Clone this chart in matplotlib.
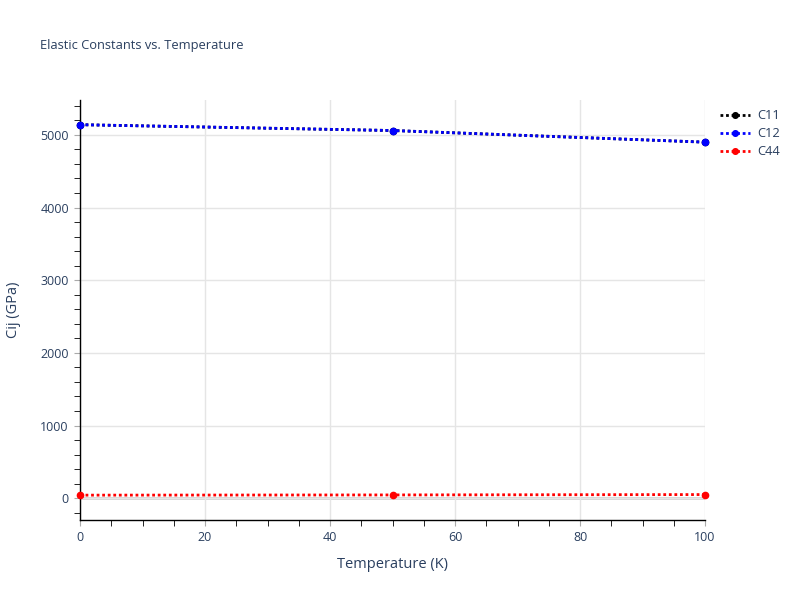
import matplotlib
matplotlib.use("Agg")
import matplotlib.pyplot as plt
from matplotlib.ticker import MultipleLocator

temperature = [0, 50, 100]
c11 = [5140, 5060, 4900]
c12 = [5140, 5060, 4900]
c44 = [42, 45, 50]

series_names = ["C11", "C12", "C44"]
series_colors = ["black", "blue", "red"]

plt.rcParams['font.family'] = ['Open Sans', 'DejaVu Sans']
text_color = "#2a3f5f"

fig = plt.figure(figsize=(8, 6), dpi=100)
ax = fig.add_axes([0.1, 1 - 520 / 600, 0.78125, 420 / 600])

for vals, name, col in zip([c11, c12, c44], series_names, series_colors):
    ax.plot(temperature, vals, linestyle=(0, (1, 1)), linewidth=2.0, color=col,
            marker='o', markersize=4.5, label=name, clip_on=False, zorder=3)

ax.set_xlim(0, 100)
ax.set_ylim(-300, 5480)
ax.xaxis.set_major_locator(MultipleLocator(20))
ax.xaxis.set_minor_locator(MultipleLocator(5))
ax.yaxis.set_major_locator(MultipleLocator(1000))
ax.yaxis.set_minor_locator(MultipleLocator(200))

ax.grid(True, which='major', color='#e5e5e5', linewidth=1, zorder=0)
ax.axhline(0, color='#d0d0d0', linewidth=2, zorder=1)
for s in ['top', 'right']:
    ax.spines[s].set_visible(False)
for s in ['left', 'bottom']:
    ax.spines[s].set_color('black')
    ax.spines[s].set_linewidth(1)

ax.tick_params(which='both', direction='out', labelcolor=text_color, labelsize=9)
ax.tick_params(which='major', length=4, color='#aaaaaa')
ax.tick_params(which='minor', length=4, color='black')
ax.tick_params(axis='x', pad=4)
ax.tick_params(axis='y', pad=4)

ax.set_xlabel("Temperature (K)", fontsize=10.5, color=text_color, labelpad=9)
ax.set_ylabel("Cij (GPa)", fontsize=10.5, color=text_color, labelpad=14)

fig.text(40 / 800, 1 - 45 / 600, "Elastic Constants vs. Temperature", fontsize=9.3,
         color=text_color, va='center', ha='left')

leg = ax.legend(loc='upper left', bbox_to_anchor=(1.01, 1.0), frameon=False,
                fontsize=9.3, handlelength=2.3, handletextpad=0.6, labelspacing=0.4,
                labelcolor=text_color, borderaxespad=0.3, markerscale=0.9)

fig.savefig("out.png", dpi=100)
